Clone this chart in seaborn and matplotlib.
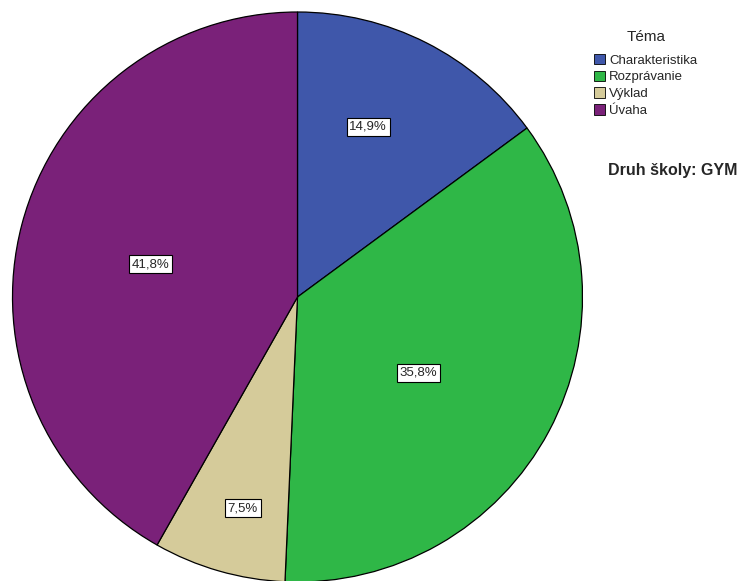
import numpy as np
import matplotlib
matplotlib.use("Agg")
import matplotlib.pyplot as plt
import seaborn as sns
from matplotlib.patches import Patch

sns.set_style("white")
plt.rcParams['font.family'] = ['Liberation Sans', 'DejaVu Sans']

# data
categories = ["Charakteristika", "Rozprávanie", "Výklad", "Úvaha"]
shares = [14.9, 35.8, 7.5, 41.8]
colors = ["#3F57AA", "#2FB747", "#D5CB9A", "#7A2179"]
legend_title = "Téma"
panel_title = "Druh školy: GYM"

# label placement per slice (fraction of radius, angle shift in degrees)
label_radius = [0.646, 0.50, 0.765, 0.527]
label_shift = [4.3, -4.1, 1.5, 2.1]

fig = plt.figure(figsize=(7.44, 5.81), dpi=100)
W, H = 744, 581
cx, cy, r = 297.5, 297, 285
ax = fig.add_axes([(cx - r) / W, (H - cy - r) / H, 2 * r / W, 2 * r / H])

wedges, _ = ax.pie(shares, colors=colors, startangle=90, counterclock=False,
                   wedgeprops=dict(edgecolor="black", linewidth=0.9), radius=1.0)
ax.set_xlim(-1, 1)
ax.set_ylim(-1, 1)
ax.set_aspect("equal")
ax.axis("off")

for w, val, rr, sh in zip(wedges, shares, label_radius, label_shift):
    ang = np.deg2rad((w.theta1 + w.theta2) / 2 + sh)
    ax.text(rr * np.cos(ang), rr * np.sin(ang), f"{val:.1f}%".replace(".", ","),
            ha="center", va="center", fontsize=9.5,
            bbox=dict(boxstyle="square,pad=0.2", facecolor="white", edgecolor="black", linewidth=0.8))

handles = [Patch(facecolor=c, edgecolor="black", linewidth=0.6) for c in colors]
leg = fig.legend(handles, categories, title=legend_title, loc="upper left",
                 bbox_to_anchor=(594 / W, 1 - 30 / H), frameon=False, fontsize=9.5,
                 title_fontsize=11, handlelength=0.85, handleheight=0.85,
                 handletextpad=0.3, labelspacing=0.3, borderaxespad=0,
                 borderpad=0)
leg._legend_box.align = "center"
leg._legend_box.sep = 7

fig.text(608 / W, 1 - 170 / H, panel_title, fontsize=11.5, fontweight="bold",
         ha="left", va="center")

fig.savefig("out.png", dpi=100)
